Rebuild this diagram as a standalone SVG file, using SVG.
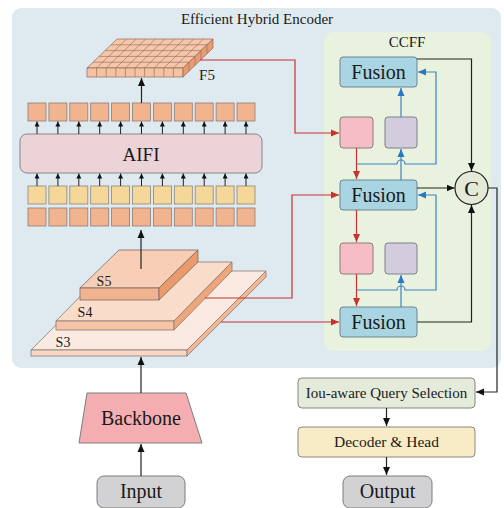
<svg xmlns="http://www.w3.org/2000/svg" width="504" height="508" viewBox="0 0 504 508">
<style>
text{font-family:"Liberation Serif","DejaVu Serif",serif;fill:#1a1a1a;text-anchor:middle}
.fusion{fill:#a9d4e1;stroke:#6b8791;stroke-width:1}
.tokO{fill:#f2b48f;stroke:#8d7d75;stroke-width:0.8}
.tokY{fill:#f5d899;stroke:#8d857a;stroke-width:0.8}
.red{fill:none;stroke:#c8312f;stroke-width:1.2}
.blue{fill:none;stroke:#3c84c4;stroke-width:1.2}
.blk{fill:none;stroke:#222;stroke-width:1.2}
.sm{fill:none;stroke:#222;stroke-width:1}
.grid{stroke:#8a6a5a;stroke-width:0.6;fill:none}
</style>
<defs>
<marker id="ab" markerUnits="userSpaceOnUse" markerWidth="9" markerHeight="8" refX="8" refY="4" orient="auto"><path d="M0,0.5 L8,4 L0,7.5 z" fill="#111"/></marker>
<marker id="ar" markerUnits="userSpaceOnUse" markerWidth="9" markerHeight="8" refX="8" refY="4" orient="auto"><path d="M0,0.5 L8,4 L0,7.5 z" fill="#c8312f"/></marker>
<marker id="au" markerUnits="userSpaceOnUse" markerWidth="9" markerHeight="8" refX="8" refY="4" orient="auto"><path d="M0,0.5 L8,4 L0,7.5 z" fill="#2a78c2"/></marker>
<marker id="as" markerUnits="userSpaceOnUse" markerWidth="6" markerHeight="6" refX="5" refY="2.5" orient="auto"><path d="M0,0 L5,2.5 L0,5 z" fill="#111"/></marker>
</defs>

<g id="encoder-panel">
<rect x="12" y="8" width="489" height="360" rx="9" fill="#dfeaf0"/>
<text x="257" y="24" font-size="15">Efficient Hybrid Encoder</text>
</g>
<g id="ccff-panel">
<rect x="324" y="32" width="167" height="319" rx="9" fill="#e9f1df"/>
<text x="407" y="47" font-size="15">CCFF</text>
</g>

<g id="f5">
<polygon points="87,68 183,68 213,39 117,39" fill="#f7c6a9" stroke="#8a6a5a" stroke-width="0.7"/>
<rect x="87" y="68" width="96" height="9" fill="#f5c2a2" stroke="#8a6a5a" stroke-width="0.7"/>
<polygon points="183,68 213,39 213,48 183,77" fill="#e99b72" stroke="#8a6a5a" stroke-width="0.7"/>
<path class="grid" d="M96.6,68 L126.6,39 M106.2,68 L136.2,39 M115.8,68 L145.8,39 M125.4,68 L155.4,39 M135,68 L165,39 M144.6,68 L174.6,39 M154.2,68 L184.2,39 M163.8,68 L193.8,39 M173.4,68 L203.4,39 M93,62.2 H189 M99,56.4 H195 M105,50.6 H201 M111,44.8 H207 M96.6,68 V77 M106.2,68 V77 M115.8,68 V77 M125.4,68 V77 M135,68 V77 M144.6,68 V77 M154.2,68 V77 M163.8,68 V77 M173.4,68 V77 M189,62.2 V71.2 M195,56.4 V65.4 M201,50.6 V59.6 M207,44.8 V53.8"/>
<text x="207" y="80" font-size="15">F5</text>
</g>

<g id="tokens-top">
<rect class="tokO" x="28" y="103" width="18" height="18"/><rect class="tokO" x="48.9" y="103" width="18" height="18"/><rect class="tokO" x="69.8" y="103" width="18" height="18"/><rect class="tokO" x="90.7" y="103" width="18" height="18"/><rect class="tokO" x="111.6" y="103" width="18" height="18"/><rect class="tokO" x="132.5" y="103" width="18" height="18"/><rect class="tokO" x="153.4" y="103" width="18" height="18"/><rect class="tokO" x="174.3" y="103" width="18" height="18"/><rect class="tokO" x="195.2" y="103" width="18" height="18"/><rect class="tokO" x="216.1" y="103" width="18" height="18"/><rect class="tokO" x="237" y="103" width="18" height="18"/>
</g>
<g id="aifi">
<rect x="20" y="134" width="242" height="39" rx="7" fill="#ecd3d7" stroke="#8a8486" stroke-width="1"/>
<text x="141" y="161" font-size="19">AIFI</text>
</g>
<g id="tokens-yellow">
<rect class="tokY" x="28" y="186" width="18" height="18"/><rect class="tokY" x="48.9" y="186" width="18" height="18"/><rect class="tokY" x="69.8" y="186" width="18" height="18"/><rect class="tokY" x="90.7" y="186" width="18" height="18"/><rect class="tokY" x="111.6" y="186" width="18" height="18"/><rect class="tokY" x="132.5" y="186" width="18" height="18"/><rect class="tokY" x="153.4" y="186" width="18" height="18"/><rect class="tokY" x="174.3" y="186" width="18" height="18"/><rect class="tokY" x="195.2" y="186" width="18" height="18"/><rect class="tokY" x="216.1" y="186" width="18" height="18"/><rect class="tokY" x="237" y="186" width="18" height="18"/>
</g>
<g id="tokens-bottom">
<rect class="tokO" x="28" y="208" width="18" height="18"/><rect class="tokO" x="48.9" y="208" width="18" height="18"/><rect class="tokO" x="69.8" y="208" width="18" height="18"/><rect class="tokO" x="90.7" y="208" width="18" height="18"/><rect class="tokO" x="111.6" y="208" width="18" height="18"/><rect class="tokO" x="132.5" y="208" width="18" height="18"/><rect class="tokO" x="153.4" y="208" width="18" height="18"/><rect class="tokO" x="174.3" y="208" width="18" height="18"/><rect class="tokO" x="195.2" y="208" width="18" height="18"/><rect class="tokO" x="216.1" y="208" width="18" height="18"/><rect class="tokO" x="237" y="208" width="18" height="18"/>
</g>

<g id="s3">
<polygon points="31,350 187,350 266,271 110,271" fill="#fbeae1" stroke="#8a7a72" stroke-width="0.8"/>
<rect x="31" y="350" width="156" height="6" fill="#f8d8c6" stroke="#8a7a72" stroke-width="0.8"/>
<polygon points="187,350 266,271 266,277 187,356" fill="#f2b895" stroke="#8a7a72" stroke-width="0.8"/>
<text x="63" y="347" font-size="14">S3</text>
</g>
<g id="s4">
<polygon points="56,321 174,321 232,262 114,262" fill="#fadccb" stroke="#8a7a72" stroke-width="0.8"/>
<rect x="56" y="321" width="118" height="9" fill="#f5c4a6" stroke="#8a7a72" stroke-width="0.8"/>
<polygon points="174,321 232,262 232,271 174,330" fill="#efa67b" stroke="#8a7a72" stroke-width="0.8"/>
<text x="85" y="317" font-size="14">S4</text>
</g>
<g id="s5">
<polygon points="80,288 159,288 198,250 119,250" fill="#f8cfb6" stroke="#7a6a62" stroke-width="0.8"/>
<rect x="80" y="288" width="79" height="12" fill="#f2b490" stroke="#7a6a62" stroke-width="0.8"/>
<polygon points="159,288 198,250 198,262 159,300" fill="#eb9b6b" stroke="#7a6a62" stroke-width="0.8"/>
<text x="104" y="286" font-size="14">S5</text>
</g>

<g id="backbone">
<polygon points="87,393 186,393 202,443 79,443" fill="#f4aeb1" stroke="#7d7d7d" stroke-width="1"/>
<text x="141" y="425" font-size="20">Backbone</text>
</g>
<g id="input">
<rect x="97" y="476" width="88" height="32" rx="7" fill="#d2d2d4" stroke="#7d7d7d" stroke-width="1"/>
<text x="141" y="498" font-size="20">Input</text>
</g>

<g id="fusion-top"><rect class="fusion" x="340" y="57" width="77" height="30" rx="3"/><text x="378.5" y="79" font-size="20">Fusion</text></g>
<g id="fusion-mid"><rect class="fusion" x="340" y="180" width="77" height="30" rx="3"/><text x="378.5" y="202" font-size="20">Fusion</text></g>
<g id="fusion-bot"><rect class="fusion" x="340" y="307" width="77" height="30" rx="3"/><text x="378.5" y="329" font-size="20">Fusion</text></g>
<g id="pink-1"><rect x="340" y="117" width="33" height="31" rx="3" fill="#f7bdc6" stroke="#8a7d80" stroke-width="1"/></g>
<g id="purple-1"><rect x="385" y="117" width="32" height="31" rx="3" fill="#d3ccdd" stroke="#80808a" stroke-width="1"/></g>
<g id="pink-2"><rect x="340" y="243" width="33" height="31" rx="3" fill="#f7bdc6" stroke="#8a7d80" stroke-width="1"/></g>
<g id="purple-2"><rect x="385" y="243" width="32" height="31" rx="3" fill="#d3ccdd" stroke="#80808a" stroke-width="1"/></g>
<g id="concat"><circle cx="471.5" cy="188" r="16.5" fill="#e4e9d8" stroke="#222" stroke-width="1.2"/><text x="471.5" y="196" font-size="22">C</text></g>

<g id="iou"><rect x="298" y="378" width="177" height="30" rx="4" fill="#e5ebda" stroke="#85887f" stroke-width="1"/><text x="386.5" y="398" font-size="15">Iou-aware Query Selection</text></g>
<g id="decoder"><rect x="298" y="427" width="177" height="30" rx="4" fill="#f8ecc6" stroke="#8a877a" stroke-width="1"/><text x="386.5" y="447" font-size="15.5">Decoder &amp; Head</text></g>
<g id="output"><rect x="343" y="476" width="89" height="32" rx="7" fill="#d2d2d4" stroke="#7d7d7d" stroke-width="1"/><text x="387.5" y="498" font-size="20">Output</text></g>

<g id="connectors">
<g marker-end="url(#as)" class="sm"><path d="M37,186 V173.5"/><path d="M57.9,186 V173.5"/><path d="M78.8,186 V173.5"/><path d="M99.7,186 V173.5"/><path d="M120.6,186 V173.5"/><path d="M141.5,186 V173.5"/><path d="M162.4,186 V173.5"/><path d="M183.3,186 V173.5"/><path d="M204.2,186 V173.5"/><path d="M225.1,186 V173.5"/><path d="M246,186 V173.5"/></g>
<g marker-end="url(#as)" class="sm"><path d="M37,134 V121.5"/><path d="M57.9,134 V121.5"/><path d="M78.8,134 V121.5"/><path d="M99.7,134 V121.5"/><path d="M120.6,134 V121.5"/><path d="M141.5,134 V121.5"/><path d="M162.4,134 V121.5"/><path d="M183.3,134 V121.5"/><path d="M204.2,134 V121.5"/><path d="M225.1,134 V121.5"/><path d="M246,134 V121.5"/></g>
<path class="blk" marker-end="url(#ab)" d="M141.5,103 V78"/>
<path class="blk" marker-end="url(#ab)" d="M141,269 V230"/>
<path class="blk" marker-end="url(#ab)" d="M141,393 V357"/>
<path class="blk" marker-end="url(#ab)" d="M141,476 V444"/>
<path class="red" marker-end="url(#ar)" d="M200,60 H295 V133 H339"/>
<path class="red" marker-end="url(#ar)" d="M205,298 H292 V195 H339"/>
<path class="red" marker-end="url(#ar)" d="M221,322 H339"/>
<path class="red" marker-end="url(#ar)" d="M356.5,148 V179"/>
<path class="red" marker-end="url(#ar)" d="M356.5,210 V242"/>
<path class="red" marker-end="url(#ar)" d="M356.5,274 V306"/>
<path class="blue" marker-end="url(#au)" d="M401,117 V88"/>
<path class="blue" marker-end="url(#au)" d="M401,180 V149"/>
<path class="blue" marker-end="url(#au)" d="M401,307 V275"/>
<path class="blue" marker-end="url(#au)" d="M356.5,164 H397 A4,4 0 0 1 405,164 H436 V72 H418"/>
<path class="blue" marker-end="url(#au)" d="M356.5,290 H397 A4,4 0 0 1 405,290 H436 V195 H418"/>
<path class="blk" marker-end="url(#ab)" d="M417,59 H471.5 V171"/>
<path class="blk" marker-end="url(#ab)" d="M417,188 H454.5"/>
<path class="blk" marker-end="url(#ab)" d="M417,322 H471.5 V205"/>
<path class="blk" marker-end="url(#ab)" d="M488,188 H497 V392 H476"/>
<path class="blk" marker-end="url(#ab)" d="M386.5,408 V426"/>
<path class="blk" marker-end="url(#ab)" d="M386.5,457 V475"/>
</g>
</svg>
